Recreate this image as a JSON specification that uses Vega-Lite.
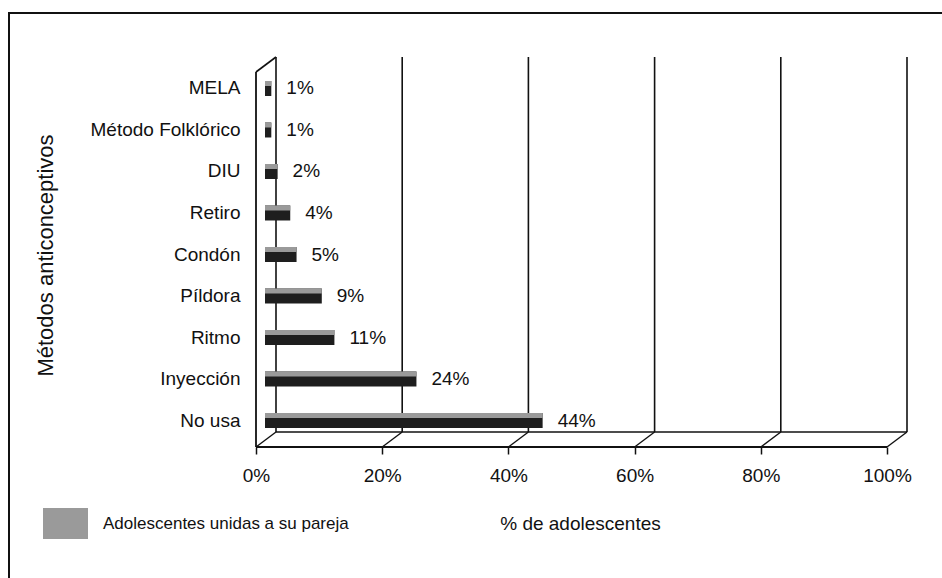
{
  "$schema": "https://vega.github.io/schema/vega-lite/v6.json",
  "width": 631,
  "height": 375,
  "autosize": {"type": "none"},
  "padding": {"left": 276, "top": 57, "right": 35, "bottom": 146},
  "background": "white",
  "config": {
    "view": {"stroke": null},
    "font": "Liberation Sans",
    "axis": {"labelFont": "Liberation Sans", "titleFont": "Liberation Sans", "labelColor": "#111", "titleColor": "#111", "titleFontWeight": "normal"},
    "legend": {"labelFont": "Liberation Sans", "labelColor": "#111"}
  },
  "datasets": {
    "metodos": [
      {"metodo": "MELA", "pct": 0.01, "serie": "Adolescentes unidas a su pareja"},
      {"metodo": "Método Folklórico", "pct": 0.01, "serie": "Adolescentes unidas a su pareja"},
      {"metodo": "DIU", "pct": 0.02, "serie": "Adolescentes unidas a su pareja"},
      {"metodo": "Retiro", "pct": 0.04, "serie": "Adolescentes unidas a su pareja"},
      {"metodo": "Condón", "pct": 0.05, "serie": "Adolescentes unidas a su pareja"},
      {"metodo": "Píldora", "pct": 0.09, "serie": "Adolescentes unidas a su pareja"},
      {"metodo": "Ritmo", "pct": 0.11, "serie": "Adolescentes unidas a su pareja"},
      {"metodo": "Inyección", "pct": 0.24, "serie": "Adolescentes unidas a su pareja"},
      {"metodo": "No usa", "pct": 0.44, "serie": "Adolescentes unidas a su pareja"}
    ],
    "rejilla": [{"v": 0}, {"v": 0.2}, {"v": 0.4}, {"v": 0.6}, {"v": 0.8}, {"v": 1}]
  },
  "layer": [
    {
      "layer": [
        {
          "data": {"name": "rejilla"},
          "mark": {"type": "rule", "stroke": "#111", "strokeWidth": 1.6},
          "encoding": {
            "x": {
              "field": "v", "type": "quantitative",
              "scale": {"domain": [0, 1], "nice": false},
              "axis": {"orient": "bottom", "offset": 15, "values": [0, 0.2, 0.4, 0.6, 0.8, 1], "format": ".0%", "grid": false, "domain": false, "ticks": true, "tickSize": 7, "tickOffset": -20, "tickWidth": 1.5, "tickColor": "#111", "labelPadding": 12, "labelFontSize": 19, "labelFlush": false, "labelOverlap": false, "title": "% de adolescentes", "titleFontSize": 19, "titleX": 304, "titleY": 76, "titleBaseline": "middle", "zindex": 1}
            }
          }
        },
        {
          "data": {"values": [{}]},
          "mark": {"type": "rect", "fillOpacity": 0, "stroke": "#111", "strokeWidth": 2, "clip": false, "xOffset": -267, "x2Offset": 93, "yOffset": 188, "y2Offset": -44},
          "encoding": {
            "x": {"datum": 0, "type": "quantitative", "scale": {"domain": [0, 1], "nice": false}},
            "x2": {"datum": 1},
            "y": {"datum": 0, "type": "quantitative", "scale": {"domain": [0, 1], "nice": false}, "axis": null},
            "y2": {"datum": 1}
          }
        },
        {
          "data": {"name": "rejilla"},
          "mark": {"type": "rule", "stroke": "#111", "strokeWidth": 1.4, "x2Offset": -20, "y2Offset": 15},
          "encoding": {
            "x": {"field": "v", "type": "quantitative", "scale": {"domain": [0, 1], "nice": false}},
            "x2": {"field": "v"},
            "y": {"datum": 0, "type": "quantitative", "scale": {"domain": [0, 1], "nice": false}, "axis": null},
            "y2": {"datum": 0}
          }
        },
        {
          "data": {"values": [{}]},
          "mark": {"type": "rule", "stroke": "#111", "strokeWidth": 1.6},
          "encoding": {
            "x": {"datum": 0, "type": "quantitative", "scale": {"domain": [0, 1], "nice": false}},
            "x2": {"datum": 1},
            "y": {"datum": 0, "type": "quantitative", "scale": {"domain": [0, 1], "nice": false}, "axis": null}
          }
        },
        {
          "data": {"values": [{}]},
          "mark": {"type": "rule", "stroke": "#111", "strokeWidth": 1.8, "xOffset": -20, "x2Offset": -20, "yOffset": 15},
          "encoding": {
            "x": {"datum": 0, "type": "quantitative", "scale": {"domain": [0, 1], "nice": false}},
            "x2": {"datum": 1},
            "y": {"datum": 0, "type": "quantitative", "scale": {"domain": [0, 1], "nice": false}, "axis": null}
          }
        },
        {
          "data": {"values": [{}]},
          "mark": {"type": "rule", "stroke": "#111", "strokeWidth": 1.8, "xOffset": -20, "yOffset": 15, "y2Offset": 15},
          "encoding": {
            "x": {"datum": 0, "type": "quantitative", "scale": {"domain": [0, 1], "nice": false}},
            "y": {"datum": 0, "type": "quantitative", "scale": {"domain": [0, 1], "nice": false}, "axis": null},
            "y2": {"datum": 1}
          }
        },
        {
          "data": {"values": [{}]},
          "mark": {"type": "rule", "stroke": "#111", "strokeWidth": 1.6, "x2Offset": -20, "y2Offset": 15},
          "encoding": {
            "x": {"datum": 0, "type": "quantitative", "scale": {"domain": [0, 1], "nice": false}},
            "x2": {"datum": 0},
            "y": {"datum": 1, "type": "quantitative", "scale": {"domain": [0, 1], "nice": false}, "axis": null},
            "y2": {"datum": 1}
          }
        }
      ]
    },
    {
      "data": {"name": "metodos"},
      "encoding": {
        "y": {
          "field": "metodo", "type": "nominal",
          "scale": {"domain": ["MELA", "Método Folklórico", "DIU", "Retiro", "Condón", "Píldora", "Ritmo", "Inyección", "No usa"], "paddingInner": 0.639, "paddingOuter": 0.3375, "align": 0.857, "round": false},
          "axis": {"title": "Métodos anticonceptivos", "titleFontSize": 22, "titleX": -231, "titleY": 198, "titleBaseline": "middle", "titleAngle": -90, "labelFontSize": 19, "labelPadding": 36, "ticks": false, "tickSize": 0, "domain": false, "grid": false, "labelLimit": 300}
        },
        "x": {
          "field": "pct", "type": "quantitative",
          "scale": {"domain": [0, 1], "nice": false}
        }
      },
      "layer": [
        {
          "mark": {"type": "bar", "xOffset": -11, "x2Offset": -15, "color": "#1e1e1e"}
        },
        {
          "mark": {"type": "bar", "xOffset": -11, "x2Offset": -15, "height": 5, "yOffset": -5},
          "encoding": {
            "color": {
              "field": "serie", "type": "nominal",
              "scale": {"range": ["#9a9a9a"]},
              "legend": {"orient": "none", "legendX": -233, "legendY": 444, "title": null, "symbolType": "M-1,-0.69H1V0.69H-1Z", "symbolSize": 2025, "labelFontSize": 17, "labelOffset": 15, "labelLimit": 500, "padding": 0, "symbolStrokeWidth": 0}
            }
          }
        },
        {
          "mark": {"type": "text", "align": "left", "baseline": "middle", "dx": 4, "fontSize": 19, "color": "#111", "font": "Liberation Sans"},
          "encoding": {"text": {"field": "pct", "type": "quantitative", "format": ".0%"}}
        }
      ]
    }
  ],
  "resolve": {"scale": {"y": "independent"}}
}
